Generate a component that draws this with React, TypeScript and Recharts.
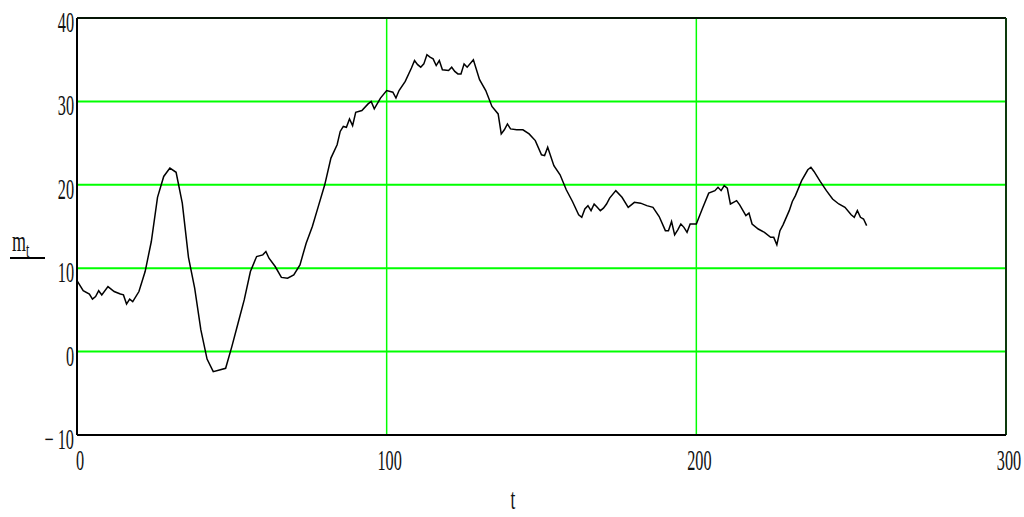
import React from 'react';
import { LineChart, Line, XAxis, YAxis, CartesianGrid, ReferenceLine } from 'recharts';

// time steps t and series m(t)
const tValues = [
  0, 2, 4, 5, 6, 7, 8, 10, 12, 14, 15, 16, 17, 18, 20, 22, 24, 26, 28, 30,
  32, 34, 36, 38, 40, 42, 44, 46, 48, 50, 52, 54, 56, 58, 60, 61, 62, 64, 66, 68,
  70, 72, 74, 76, 78, 80, 82, 84, 85, 86, 87, 88, 89, 90, 92, 94, 95, 96, 98, 100,
  102, 103, 104, 106, 108, 109, 110, 111, 112, 113, 114, 115, 116, 117, 118, 120, 121, 122, 123, 124,
  125, 126, 128, 130, 132, 134, 136, 137, 138, 139, 140, 142, 144, 146, 148, 150, 151, 152, 154, 156,
  158, 160, 162, 163, 164, 165, 166, 167, 168, 169, 170, 171, 172, 174, 176, 178, 180, 182, 184, 186,
  188, 190, 191, 192, 193, 194, 195, 196, 197, 198, 200, 202, 204, 206, 207, 208, 209, 210, 211, 212,
  213, 214, 216, 217, 218, 220, 222, 224, 225, 226, 227, 228, 230, 231, 232, 234, 236, 237, 238, 240,
  242, 244, 246, 248, 250, 251, 252, 253, 254, 255,
];

const mValues = [
  8.5, 7.3, 6.9, 6.3, 6.6, 7.3, 6.8, 7.8, 7.2, 6.9, 6.8, 5.7, 6.3, 6.0, 7.2, 9.6, 13.2, 18.5, 21.0, 22.0,
  21.5, 17.8, 11.3, 7.6, 2.6, -0.9, -2.4, -2.2, -2.0, 0.6, 3.4, 6.2, 9.6, 11.4, 11.6, 12.0, 11.2, 10.2, 8.9, 8.8,
  9.2, 10.4, 13.0, 15.0, 17.5, 20.0, 23.2, 24.8, 26.4, 27.0, 26.9, 27.9, 27.1, 28.7, 28.9, 29.7, 30.0, 29.1, 30.4, 31.3,
  31.1, 30.4, 31.3, 32.4, 34.0, 34.9, 34.4, 34.1, 34.5, 35.6, 35.3, 35.1, 34.3, 34.9, 33.8, 33.7, 34.1, 33.6, 33.3, 33.3,
  34.5, 34.1, 35.0, 32.6, 31.3, 29.4, 28.5, 26.1, 26.6, 27.3, 26.7, 26.6, 26.6, 26.1, 25.3, 23.6, 23.5, 24.5, 22.3, 21.2,
  19.4, 18.0, 16.4, 16.1, 17.1, 17.5, 16.9, 17.7, 17.3, 16.9, 17.2, 17.7, 18.4, 19.3, 18.5, 17.3, 17.9, 17.8, 17.5, 17.3,
  16.2, 14.5, 14.5, 15.6, 14.0, 14.6, 15.3, 14.9, 14.3, 15.3, 15.3, 17.2, 19.0, 19.3, 19.7, 19.3, 19.9, 19.6, 17.7, 17.9,
  18.1, 17.6, 16.3, 16.6, 15.3, 14.7, 14.3, 13.7, 13.7, 12.8, 14.5, 15.2, 16.9, 18.0, 18.7, 20.5, 21.8, 22.1, 21.6, 20.4,
  19.3, 18.3, 17.7, 17.3, 16.4, 16.1, 16.9, 16.1, 15.9, 15.1,
];

const xTicks = [0, 100, 200, 300];
const yTicks = [-10, 0, 10, 20, 30, 40];

const data = tValues.map((t, i) => ({ t, m: mValues[i] }));

const FONT = '"Liberation Serif", "Times New Roman", serif';

// narrow, tall digits like the original plot
const YTick = ({ x, y, payload }: any) => {
  const v = payload.value;
  const label = v < 0 ? `\u2212 ${Math.abs(v)}` : `${v}`;
  return (
    <g transform={`translate(${x - 3},${y + 14})`}>
      <text transform="scale(0.56,1)" textAnchor="end" fontFamily={FONT} fontSize={29} fill="#111">
        {label}
      </text>
    </g>
  );
};

const XTick = ({ x, y, payload }: any) => (
  <g transform={`translate(${x + 3},${y + 35})`}>
    <text transform="scale(0.56,1)" textAnchor="middle" fontFamily={FONT} fontSize={29} fill="#111">
      {payload.value}
    </text>
  </g>
);

const XLabel = () => (
  <g transform="translate(513,509)">
    <text transform="scale(0.6,1)" textAnchor="middle" fontFamily={FONT} fontSize={29} fill="#111">
      t
    </text>
  </g>
);

const YLabel = () => (
  <g>
    <g transform="translate(12,251)">
      <text transform="scale(0.6,1)" fontFamily={FONT} fontSize={30} fill="#111">
        m
        <tspan fontSize={20} dy={6}>t</tspan>
      </text>
    </g>
    <line x1={10} x2={45} y1={258} y2={258} stroke="#000" strokeWidth={2} />
  </g>
);

export default function App() {
  return (
    <div style={{ position: 'absolute', left: 0, top: 0, width: 1024, height: 517, background: '#fff' }}>
      <LineChart width={1024} height={517} data={data} margin={{ top: 18, right: 18, left: 0, bottom: 0 }}>
        <CartesianGrid horizontal={true} vertical={false} stroke="#00ff00" strokeWidth={2} />
        <CartesianGrid horizontal={false} vertical={true} stroke="#00ff00" strokeWidth={1.5} />
        <XAxis
          dataKey="t"
          type="number"
          domain={[0, 300]}
          ticks={xTicks}
          height={82}
          tickSize={0}
          tickMargin={0}
          tick={<XTick />}
          axisLine={{ stroke: '#000', strokeWidth: 2 }}
          label={{ content: () => <XLabel /> }}
        />
        <YAxis
          type="number"
          domain={[-10, 40]}
          ticks={yTicks}
          width={77}
          tickSize={0}
          tickMargin={0}
          tick={<YTick />}
          axisLine={{ stroke: '#000', strokeWidth: 2 }}
          label={{ content: () => <YLabel /> }}
        />
        <ReferenceLine y={40} stroke="#051505" strokeWidth={2} />
        <ReferenceLine x={300} stroke="#0d3a0d" strokeWidth={2} />
        <Line
          type="linear"
          dataKey="m"
          stroke="#000"
          strokeWidth={1.5}
          dot={false}
          isAnimationActive={false}
        />
      </LineChart>
    </div>
  );
}
